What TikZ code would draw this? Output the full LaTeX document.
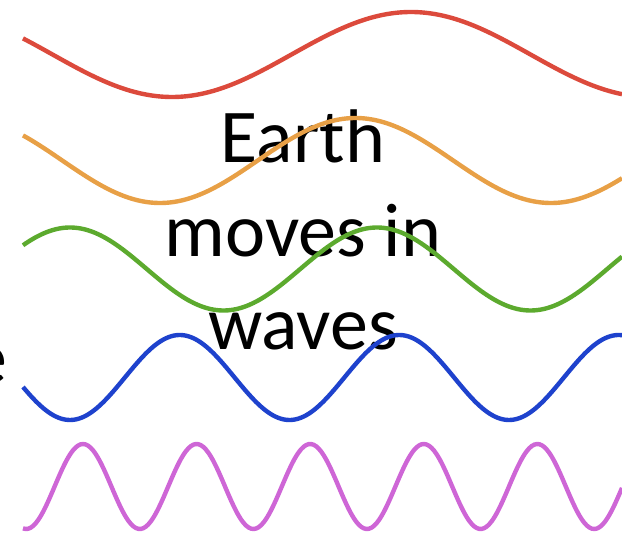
\documentclass[tikz,border=0pt]{standalone}
\usepackage{fontspec}
\setmainfont{Carlito}
\usepackage{xcolor}
\definecolor{wavered}{RGB}{220,74,60}
\definecolor{waveorange}{RGB}{232,160,70}
\definecolor{wavegreen}{RGB}{92,170,46}
\definecolor{waveblue}{RGB}{30,66,205}
\definecolor{wavepurple}{RGB}{206,102,214}
\begin{document}
\begin{tikzpicture}[x=1pt,y=-1pt]
\useasboundingbox (0,0) rectangle (622,537);
\tikzset{wave/.style={line width=4.4pt}}
\tikzset{big/.style={font=\fontsize{76}{93.5}\selectfont,inner sep=0pt}}
% caption, under the waves
\node[big,align=center,anchor=base] (title) at (303,350) {Earth\\moves in\\waves};
\node[big,anchor=base east] (cut) at (8,384) {e};
% colour / centre / amplitude / phase / period
\foreach \col/\cy/\amp/\xo/\per in {wavered/54.5/42.5/172/478, waveorange/160.5/42.5/160/391, wavegreen/269/-41.5/70/307, waveblue/377.5/42.5/70/219.5, wavepurple/486.5/-42.5/83/113.6} {
  \draw[wave,\col] plot[domain=23:622,samples=240,smooth] (\x,{\cy+\amp*cos((360/\per)*(\x-\xo))});
}
\end{tikzpicture}
\end{document}
